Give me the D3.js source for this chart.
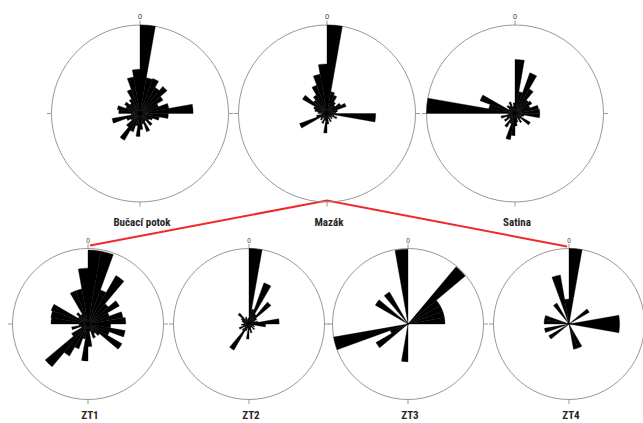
<!DOCTYPE html>
<html>
<head>
<meta charset="utf-8">
<script src="https://cdn.jsdelivr.net/npm/d3@7"></script>
<style>
  html, body { margin: 0; padding: 0; background: #fff; }
  svg { display: block; }
</style>
</head>
<body>
<svg id="chart" width="643" height="423"></svg>
<script>
// Direction bins, degrees clockwise from north (10° each)
const binStart = [0, 10, 20, 30, 40, 50, 60, 70, 80, 90, 100, 110,
                  120, 130, 140, 150, 160, 170, 180, 190, 200, 210, 220, 230,
                  240, 250, 260, 270, 280, 290, 300, 310, 320, 330, 340, 350];
const binWidth = 10;

// Rose names
const siteNames = ["Bučací potok", "Mazák", "Satina"];
const plotNames = ["ZT1", "ZT2", "ZT3", "ZT4"];
const northLabel = "0";

// Relative frequencies per direction bin (100 = longest petal)
const bucaci = [100, 41, 42, 34, 40, 30, 22, 33, 60, 32, 22, 15,
                12, 18, 10, 22, 12, 18, 26, 14, 22, 35, 20, 12,
                16, 32, 10, 24, 26, 17, 20, 15, 19, 29, 42, 50];
const mazak  = [100, 25, 22, 15, 12, 18, 23, 12, 10, 55, 8, 12,
                6, 8, 4, 10, 6, 12, 22, 8, 12, 6, 10, 8,
                33, 12, 6, 10, 14, 16, 32, 20, 24, 34, 45, 56];
const satina = [61, 25, 49, 32, 20, 22, 18, 27, 28, 28, 10, 8,
                20, 8, 12, 6, 10, 14, 25, 30, 12, 18, 8, 14,
                10, 16, 8, 100, 30, 42, 8, 12, 10, 14, 8, 12];
const zt1    = [98, 98, 48, 74, 35, 48, 30, 47, 50, 30, 50, 30,
                52, 20, 15, 20, 10, 30, 49, 20, 35, 49, 74, 25,
                10, 22, 12, 49, 50, 52, 15, 20, 15, 47, 47, 74];
const zt2    = [100, 20, 58, 15, 38, 12, 8, 12, 40, 22, 6, 8,
                5, 10, 4, 6, 12, 8, 20, 6, 10, 40, 12, 6,
                14, 8, 10, 6, 8, 10, 12, 19, 8, 10, 6, 8];
const zt3    = [0, 0, 0, 0, 99, 49, 49, 49, 49, 0, 0, 0,
                0, 0, 0, 0, 0, 0, 50, 0, 0, 0, 0, 49,
                25, 100, 0, 0, 0, 0, 50, 0, 49, 0, 0, 99];
const zt4    = [100, 0, 0, 0, 0, 31, 0, 0, 67, 67, 0, 0,
                0, 0, 0, 34, 34, 0, 0, 0, 0, 0, 0, 31,
                0, 33, 0, 33, 33, 0, 0, 0, 32, 0, 66, 33];

const topSeries = [bucaci, mazak, satina];
const bottomSeries = [zt1, zt2, zt3, zt4];

// Panel placement
const topRow = { cy: 113.5, r: 88.5, cx: [140, 327, 515], labelY: 226 };
const bottomRow = { cy: 324, r: 75.5, cx: [88, 249, 408, 569], labelY: 419 };

const svg = d3.select("#chart");
const toRad = Math.PI / 180;

function drawRose(cx, cy, r, values, name, labelY, zeroSize) {
  const g = svg.append("g").attr("transform", `translate(${cx},${cy})`);
  const rScale = d3.scaleLinear().domain([0, 100]).range([0, r]);
  const arc = d3.arc().innerRadius(0);

  g.append("circle")
    .attr("r", r)
    .attr("fill", "none")
    .attr("stroke", "#8c8c8c")
    .attr("stroke-width", 0.9);

  // cardinal ticks outside the circle
  const tickLen = 4.5;
  [0, 90, 180, 270].forEach(a => {
    const s = Math.sin(a * toRad), c = -Math.cos(a * toRad);
    g.append("line")
      .attr("x1", s * r).attr("y1", c * r)
      .attr("x2", s * (r + tickLen)).attr("y2", c * (r + tickLen))
      .attr("stroke", "#8c8c8c")
      .attr("stroke-width", 0.9);
  });

  g.append("text")
    .attr("x", 0)
    .attr("y", -r - 6)
    .attr("text-anchor", "middle")
    .attr("font-family", "Liberation Sans, Arial, sans-serif")
    .attr("font-size", zeroSize)
    .attr("fill", "#333")
    .text(northLabel);

  // petals; a hairline stroke in the fill colour closes the seams between neighbours
  g.selectAll("path.petal")
    .data(binStart.map((b, i) => ({ start: b, value: values[i] })).filter(d => d.value > 0))
    .join("path")
    .attr("class", "petal")
    .attr("d", d => arc({
      outerRadius: rScale(d.value),
      startAngle: d.start * toRad,
      endAngle: (d.start + binWidth) * toRad
    }))
    .attr("fill", "#000")
    .attr("stroke", "#000")
    .attr("stroke-width", 0.35);

  svg.append("text")
    .attr("x", cx + 2)
    .attr("y", labelY)
    .attr("text-anchor", "middle")
    .attr("font-family", "Liberation Sans Narrow, Roboto Condensed, Liberation Sans, sans-serif")
    .attr("font-weight", "bold")
    .attr("font-size", 11)
    .attr("fill", "#262626")
    .text(name);
}

// red connector from Mazák down to the ZT1..ZT4 group
const apex = [topRow.cx[1], topRow.cy + topRow.r - 1.5];
const leftEnd = [bottomRow.cx[0] + 2, bottomRow.cy - bottomRow.r - 3];
const rightEnd = [bottomRow.cx[3] - 2, bottomRow.cy - bottomRow.r - 2];
svg.append("path")
  .attr("d", d3.line()([leftEnd, apex, rightEnd]))
  .attr("fill", "none")
  .attr("stroke", "#ee2b2b")
  .attr("stroke-width", 2);

siteNames.forEach((n, i) => drawRose(topRow.cx[i], topRow.cy, topRow.r, topSeries[i], n, topRow.labelY, 7.5));
plotNames.forEach((n, i) => drawRose(bottomRow.cx[i], bottomRow.cy, bottomRow.r, bottomSeries[i], n, bottomRow.labelY, 6.5));
</script>
</body>
</html>
